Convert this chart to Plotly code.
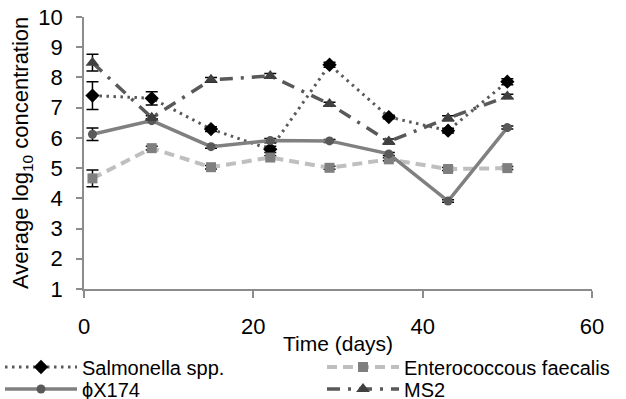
import plotly.graph_objects as go

# Sampling days
days = [1, 8, 15, 22, 29, 36, 43, 50]

# Mean log10 concentrations per organism
salmonella = [7.40, 7.31, 6.29, 5.62, 8.42, 6.69, 6.24, 7.86]
enterococcus = [4.66, 5.66, 5.03, 5.35, 5.01, 5.29, 4.97, 5.00]
phix174 = [6.12, 6.57, 5.71, 5.91, 5.90, 5.47, 3.91, 6.34]
ms2 = [8.49, 6.67, 7.92, 8.05, 7.12, 5.88, 6.65, 7.37]

# Standard deviations (error bars)
salmonella_sd = [0.46, 0.22, 0.08, 0.10, 0.08, 0.06, 0.08, 0.10]
enterococcus_sd = [0.28, 0.06, 0.06, 0.06, 0.05, 0.05, 0.05, 0.05]
phix174_sd = [0.21, 0.06, 0.05, 0.07, 0.05, 0.05, 0.04, 0.05]
ms2_sd = [0.28, 0.06, 0.08, 0.08, 0.06, 0.08, 0.08, 0.07]

FONT = "Liberation Sans, Arial, sans-serif"
AXIS_GREY = "#8c8c8c"
W, H = 626, 399


def err(vals):
    return dict(type="data", array=vals, color="black", thickness=1.5, width=6)


fig = go.Figure()
fig.add_trace(go.Scatter(
    x=days, y=salmonella, name="Salmonella spp.", mode="lines+markers",
    line=dict(color="#595959", width=3, dash="2.5px,4.5px"),
    marker=dict(symbol="diamond", size=11, color="black"),
    error_y=err(salmonella_sd), legend="legend", showlegend=True))
fig.add_trace(go.Scatter(
    x=days, y=enterococcus, name="Enterococcous faecalis", mode="lines+markers",
    line=dict(color="#bfbfbf", width=4, dash="10px,6px"),
    marker=dict(symbol="square", size=10, color="#7f7f7f"),
    error_y=err(enterococcus_sd), legend="legend2", showlegend=True))
fig.add_trace(go.Scatter(
    x=days, y=phix174, name="\u03d5X174", mode="lines+markers",
    line=dict(color="#808080", width=3.5),
    marker=dict(symbol="circle", size=9, color="#595959"),
    error_y=err(phix174_sd), legend="legend3", showlegend=True))
fig.add_trace(go.Scatter(
    x=days, y=ms2, name="MS2", mode="lines+markers",
    line=dict(color="#595959", width=3.5, dash="13px,8px,3px,8px"),
    marker=dict(symbol="triangle-up", size=12, color="#404040"),
    error_y=err(ms2_sd), legend="legend4", showlegend=True))

# One single-entry legend per slot: two columns, two rows under the axis
legend_common = dict(
    orientation="v", xref="container", yref="container",
    xanchor="left", yanchor="middle", itemwidth=72,
    font=dict(family=FONT, size=20, color="black"),
    bgcolor="rgba(0,0,0,0)", borderwidth=0,
)
col_x = [0 / W, 322 / W]
row_y = [1 - 367 / H, 1 - 389 / H]

fig.update_layout(
    width=W, height=H, showlegend=True,
    margin=dict(l=84, r=34, t=17, b=110, autoexpand=False),
    paper_bgcolor="white", plot_bgcolor="white",
    font=dict(family=FONT, size=21, color="black"),
    legend=dict(legend_common, x=col_x[0], y=row_y[0]),
    legend2=dict(legend_common, x=col_x[1], y=row_y[0]),
    legend3=dict(legend_common, x=col_x[0], y=row_y[1]),
    legend4=dict(legend_common, x=col_x[1], y=row_y[1]),
    xaxis=dict(
        range=[0, 60], dtick=20, tick0=0,
        showline=True, linecolor=AXIS_GREY, linewidth=1.5,
        ticks="outside", ticklen=7, tickcolor=AXIS_GREY, tickwidth=1.5,
        ticklabelstandoff=10, showgrid=False, zeroline=False,
        tickfont=dict(family=FONT, size=22, color="black"),
    ),
    yaxis=dict(
        range=[1, 10], dtick=1, tick0=1,
        showline=True, linecolor=AXIS_GREY, linewidth=1.5,
        ticks="outside", ticklen=6, tickcolor=AXIS_GREY, tickwidth=1.5,
        ticklabelstandoff=9, showgrid=False, zeroline=False,
        tickfont=dict(family=FONT, size=22, color="black"),
    ),
    annotations=[
        dict(text="Time (days)", xref="paper", yref="paper",
             x=0.5, y=-(343 - 289) / (289 - 17), xanchor="center", yanchor="middle",
             showarrow=False, font=dict(family=FONT, size=21, color="black")),
        dict(text="Average log<sub>10</sub> concentration", xref="paper", yref="paper",
             x=-(84 - 22) / (592 - 84), y=0.5, xanchor="center", yanchor="middle",
             textangle=-90, showarrow=False,
             font=dict(family=FONT, size=22, color="black")),
    ],
)

fig.write_html("out.html")
